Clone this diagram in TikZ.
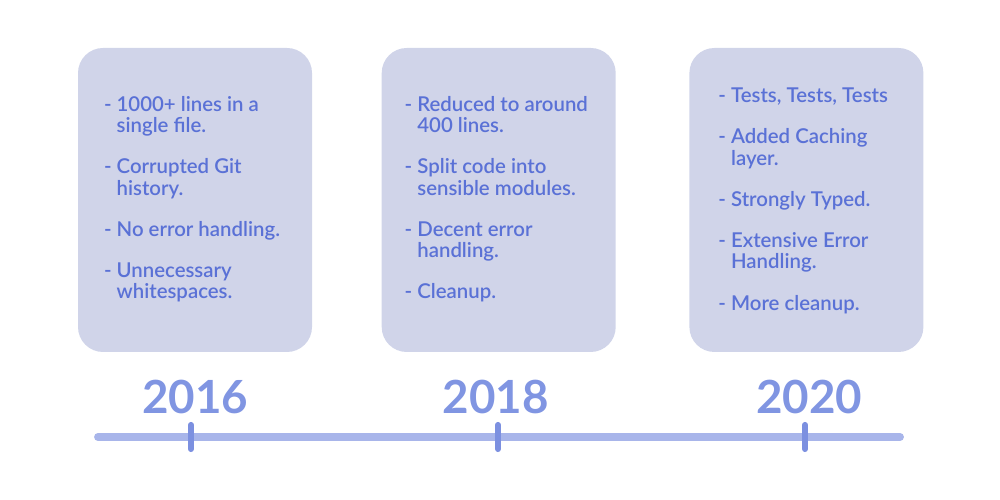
\documentclass[tikz,border=0pt]{standalone}
\usepackage{fontspec}
\setmainfont{Lato}
\newfontfamily\notefont{Lato Semibold}
\usepackage{xcolor}
\usepackage{tikz}
\usetikzlibrary{positioning}

\definecolor{boxfill}{HTML}{D0D4E9}
\definecolor{notetext}{HTML}{5A71D6}
\definecolor{yeartext}{HTML}{8095E2}
\definecolor{linecol}{HTML}{A8B5EA}
\definecolor{tickcol}{HTML}{7C90E0}

\begin{document}
\begin{tikzpicture}[
        yearbox/.style={rectangle, fill=boxfill, rounded corners=0.5cm, minimum width=4.68cm, minimum height=6.08cm},
        notes/.style={anchor=north west, inner sep=0pt, align=left, text=notetext, font=\notefont\fontsize{11.6}{12}\selectfont},
        yearlabel/.style={inner sep=0pt, text=yeartext, font=\fontsize{26}{30}\selectfont\bfseries},
        timeline/.style={line width=4.5pt, linecol, line cap=round},
        tick/.style={line width=3.5pt, tickcol, line cap=round}
    ]
        \useasboundingbox (0,0) rectangle (20,10);

        \node[yearbox] (box16) at (3.9,6.0) {};
        \node[yearbox, right=1.38cm of box16] (box18) {};
        \node[yearbox, right=1.46cm of box18] (box20) {};

        \node[notes] (notes16) at ([xshift=0.52cm, yshift=-0.97cm]box16.north west)
            {- 1000+ lines in a\\ \phantom{- }single file.\\[11.5pt]
             - Corrupted Git\\ \phantom{- }history.\\[11.5pt]
             - No error handling.\\[11.5pt]
             - Unnecessary\\ \phantom{- }whitespaces.};
        \node[notes] (notes18) at ([xshift=0.46cm, yshift=-0.97cm]box18.north west)
            {- Reduced to around\\ \phantom{- }400 lines.\\[11.5pt]
             - Split code into\\ \phantom{- }sensible modules.\\[11.5pt]
             - Decent error\\ \phantom{- }handling.\\[11.5pt]
             - Cleanup.};
        \node[notes] (notes20) at ([xshift=0.58cm, yshift=-0.8cm]box20.north west)
            {- Tests, Tests, Tests\\[11.5pt]
             - Added Caching\\ \phantom{- }layer.\\[11.5pt]
             - Strongly Typed.\\[11.5pt]
             - Extensive Error\\ \phantom{- }Handling.\\[11.5pt]
             - More cleanup.};

        \node[yearlabel, below=0.54cm of box16] (year16) {2016};
        \node[yearlabel, below=0.54cm of box18, xshift=-0.06cm] (year18) {2018};
        \node[yearlabel, below=0.54cm of box20, xshift=0.06cm] (year20) {2020};

        % timeline
        \coordinate (tlstart) at (1.96,1.26);
        \coordinate (tlend) at (18.0,1.26);
        \draw[timeline] (tlstart) -- (tlend);

        \coordinate (t16) at (3.82,1.26);
        \coordinate (t18) at (9.96,1.26);
        \coordinate (t20) at (16.1,1.26);
        \foreach \t in {t16,t18,t20}
            \draw[tick] ([yshift=-0.24cm]\t) -- ([yshift=0.24cm]\t);
    \end{tikzpicture}
\end{document}
